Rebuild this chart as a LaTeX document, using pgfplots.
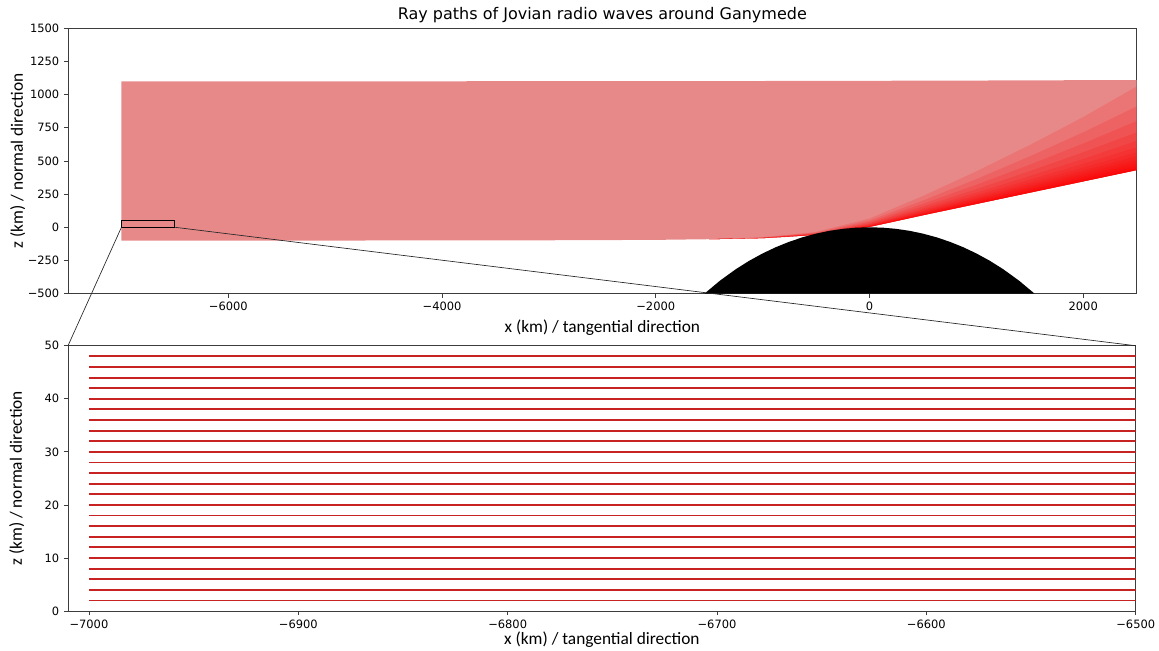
\documentclass[border=0pt]{standalone}
\usepackage{fontspec}
\setmainfont{DejaVu Sans}
\newfontfamily\labelfont{Carlito}
\usepackage{pgfplots}
\usepgfplotslibrary{fillbetween}
\pgfplotsset{compat=1.18}

\definecolor{raypink}{RGB}{232,137,137}
\definecolor{rayred}{RGB}{200,35,35}
\definecolor{spine}{RGB}{60,60,60}

\begin{document}
\begin{tikzpicture}
\pgfplotsset{
  every axis/.append style={
    scale only axis, anchor=north west,
    axis line style={spine, line width=0.6pt},
    every tick/.style={spine, line width=0.6pt},
    tick align=outside, major tick length=3pt,
    xtick pos=bottom, ytick pos=left,
    tick label style={font=\fontsize{8.6}{10}\selectfont},
    label style={font=\labelfont\fontsize{13}{15}\selectfont},
  },
  ray/.style={rayred, line width=1.4pt},
}

% ---------- overview: whole bundle of rays passing Ganymede ----------
\begin{axis}[name=top, at={(51pt,-21.2pt)}, width=801.5pt, height=199pt,
  xmin=-7500, xmax=2500, ymin=-500, ymax=1500,
  xtick={-6000,-4000,-2000,0,2000},
  xticklabels={−6000,−4000,−2000,0,2000},
  ytick={-500,-250,0,250,500,750,1000,1250,1500},
  yticklabels={−500,−250,0,250,500,750,1000,1250,1500},
  xlabel={x (km) / tangential direction},
  ylabel={z (km) / normal direction},
  ylabel shift=-5pt,
  title={Ray paths of Jovian radio waves around Ganymede},
  title style={font=\fontsize{12}{14}\selectfont, yshift=-5.5pt},
]
% lowest and highest rays of the bundle
\addplot[draw=none, name path=B] coordinates {
  (-7000,-100) (-5000,-100) (-3000,-98) (-2000,-95) (-1500,-90)
  (-1000,-82) (-750,-72) (-500,-57) (-250,-32) (0,3) (250,46)
  (500,91) (1000,176) (1500,261) (2000,346) (2500,431)};
\addplot[draw=none, name path=T] coordinates {
  (-7000,1100) (-2000,1101) (0,1104) (1000,1106) (2500,1110)};
\addplot[raypink] fill between[of=B and T];

% lowest ray again, on the grid used for the converging rays
\addplot[draw=none, name path=B2] coordinates {
  (-1500,-90) (-1000,-82) (-500,-57) (0,3) (500,91) (1000,176) (1500,261) (2000,346) (2500,431)};
% rays crowding together behind the moon (lowest to highest)
\addplot[draw=none, name path=L1]  coordinates {(-1500,-90) (-1000,-82.0) (-500,-56.9) (0,3.3) (500,91.7) (1000,177.2) (1500,262.7) (2000,348.3) (2500,434)};
\addplot[draw=none, name path=L2]  coordinates {(-1500,-90) (-1000,-81.9) (-500,-56.8) (0,3.7) (500,92.6) (1000,178.7) (1500,265.0) (2000,351.4) (2500,438)};
\addplot[draw=none, name path=L3]  coordinates {(-1500,-90) (-1000,-81.9) (-500,-56.6) (0,4.2) (500,93.8) (1000,180.7) (1500,267.8) (2000,355.2) (2500,443)};
\addplot[draw=none, name path=L4]  coordinates {(-1500,-90) (-1000,-81.8) (-500,-56.4) (0,4.8) (500,95.1) (1000,183.0) (1500,271.3) (2000,359.9) (2500,449)};
\addplot[draw=none, name path=L5]  coordinates {(-1500,-90) (-1000,-81.7) (-500,-56.1) (0,5.6) (500,97.0) (1000,186.1) (1500,275.8) (2000,366.0) (2500,457)};
\addplot[draw=none, name path=L6]  coordinates {(-1500,-90) (-1000,-81.6) (-500,-55.7) (0,6.6) (500,99.3) (1000,190.0) (1500,281.5) (2000,373.7) (2500,467)};
\addplot[draw=none, name path=L7]  coordinates {(-1500,-90) (-1000,-81.5) (-500,-55.3) (0,7.8) (500,102.0) (1000,194.7) (1500,288.4) (2000,383.0) (2500,479)};
\addplot[draw=none, name path=L8]  coordinates {(-1500,-90) (-1000,-81.4) (-500,-54.8) (0,9.3) (500,105.5) (1000,200.6) (1500,296.9) (2000,394.5) (2500,494)};
\addplot[draw=none, name path=L9]  coordinates {(-1500,-90) (-1000,-81.2) (-500,-54.1) (0,11.2) (500,109.9) (1000,208.0) (1500,307.7) (2000,409.1) (2500,513)};
\addplot[draw=none, name path=L10] coordinates {(-1500,-90) (-1000,-81.0) (-500,-53.3) (0,13.5) (500,115.2) (1000,217.0) (1500,320.9) (2000,426.9) (2500,536)};
\addplot[draw=none, name path=L11] coordinates {(-1500,-90) (-1000,-80.7) (-500,-52.3) (0,16.5) (500,122.1) (1000,228.7) (1500,338.0) (2000,450.0) (2500,566)};
\addplot[draw=none, name path=L12] coordinates {(-1500,-90) (-1000,-80.3) (-500,-51.0) (0,20.2) (500,130.6) (1000,243.1) (1500,359.0) (2000,478.4) (2500,603)};
\addplot[draw=none, name path=L13] coordinates {(-1500,-90) (-1000,-79.8) (-500,-49.3) (0,25.0) (500,141.6) (1000,261.8) (1500,386.4) (2000,515.4) (2500,651)};
\addplot[draw=none, name path=L14] coordinates {(-1500,-90) (-1000,-79.2) (-500,-47.0) (0,31.5) (500,156.6) (1000,287.2) (1500,423.5) (2000,565.5) (2500,716)};
\addplot[draw=none, name path=L15] coordinates {(-1500,-90) (-1000,-78.3) (-500,-44.1) (0,40.0) (500,176.1) (1000,320.3) (1500,471.9) (2000,630.9) (2500,801)};
\addplot[draw=none, name path=L16] coordinates {(-1500,-90) (-1000,-77.2) (-500,-40.2) (0,51.0) (500,201.4) (1000,363.2) (1500,534.6) (2000,715.6) (2500,911)};
\addplot[draw=none, name path=L17] coordinates {(-1500,-90) (-1000,-75.7) (-500,-35.0) (0,66.0) (500,235.9) (1000,421.7) (1500,620.1) (2000,831.1) (2500,1061)};
\pgfplotsinvokeforeach{1,...,17}{%
  \addplot[red, fill opacity=0.15] fill between[of=B2 and L#1, soft clip={domain=-1500:2500}];
}

% Ganymede (R = 2634.1 km), cap above z = -500 km
\addplot[fill=black, draw=none] coordinates {
  (-1544,-500) (-1400,-402.9) (-1250,-315.5) (-1125,-252.3) (-1000,-197.2)
  (-875,-149.6) (-750,-109.0) (-625,-75.2) (-500,-47.9) (-375,-26.8)
  (-250,-11.9) (-125,-3.0) (0,0) (125,-3.0) (250,-11.9) (375,-26.8)
  (500,-47.9) (625,-75.2) (750,-109.0) (875,-149.6) (1000,-197.2)
  (1125,-252.3) (1250,-315.5) (1400,-402.9) (1544,-500)} -- cycle;

% zoomed window
\addplot[black, line width=0.6pt] coordinates {
  (-7000,0) (-6500,0) (-6500,50) (-7000,50)} -- cycle;
\coordinate (zl) at (axis cs:-7000,0);
\coordinate (zr) at (axis cs:-6500,0);
\end{axis}

% ---------- detail: first kilometres of the rays ----------
\begin{axis}[name=bot, at={(51pt,-259.3pt)}, width=800.8pt, height=199pt,
  xmin=-7010, xmax=-6500, ymin=0, ymax=50,
  xtick={-7000,-6900,-6800,-6700,-6600,-6500},
  xticklabels={−7000,−6900,−6800,−6700,−6600,−6500},
  ytick={0,10,20,30,40,50},
  yticklabels={0,10,20,30,40,50},
  xlabel={x (km) / tangential direction},
  xlabel shift=-4pt,
  ylabel={z (km) / normal direction},
  ylabel shift=8.5pt,
]
\addplot[ray] coordinates {(-7000,2) (-6400,2)};
\addplot[ray] coordinates {(-7000,4) (-6400,4)};
\addplot[ray] coordinates {(-7000,6) (-6400,6)};
\addplot[ray] coordinates {(-7000,8) (-6400,8)};
\addplot[ray] coordinates {(-7000,10) (-6400,10)};
\addplot[ray] coordinates {(-7000,12) (-6400,12)};
\addplot[ray] coordinates {(-7000,14) (-6400,14)};
\addplot[ray] coordinates {(-7000,16) (-6400,16)};
\addplot[ray] coordinates {(-7000,18) (-6400,18)};
\addplot[ray] coordinates {(-7000,20) (-6400,20)};
\addplot[ray] coordinates {(-7000,22) (-6400,22)};
\addplot[ray] coordinates {(-7000,24) (-6400,24)};
\addplot[ray] coordinates {(-7000,26) (-6400,26)};
\addplot[ray] coordinates {(-7000,28) (-6400,28)};
\addplot[ray] coordinates {(-7000,30) (-6400,30)};
\addplot[ray] coordinates {(-7000,32) (-6400,32)};
\addplot[ray] coordinates {(-7000,34) (-6400,34)};
\addplot[ray] coordinates {(-7000,36) (-6400,36)};
\addplot[ray] coordinates {(-7000,38) (-6400,38)};
\addplot[ray] coordinates {(-7000,40) (-6400,40)};
\addplot[ray] coordinates {(-7000,42) (-6400,42)};
\addplot[ray] coordinates {(-7000,44) (-6400,44)};
\addplot[ray] coordinates {(-7000,46) (-6400,46)};
\addplot[ray] coordinates {(-7000,48) (-6400,48)};
\end{axis}

% connectors from the window to the detail panel
\draw[black!85, line width=0.5pt] (zl) -- (bot.north west);
\draw[black!85, line width=0.5pt] (zr) -- (bot.north east);

\pgfresetboundingbox
\path[use as bounding box] (0,0) rectangle (869.25pt,-487.5pt);
\end{tikzpicture}
\end{document}
